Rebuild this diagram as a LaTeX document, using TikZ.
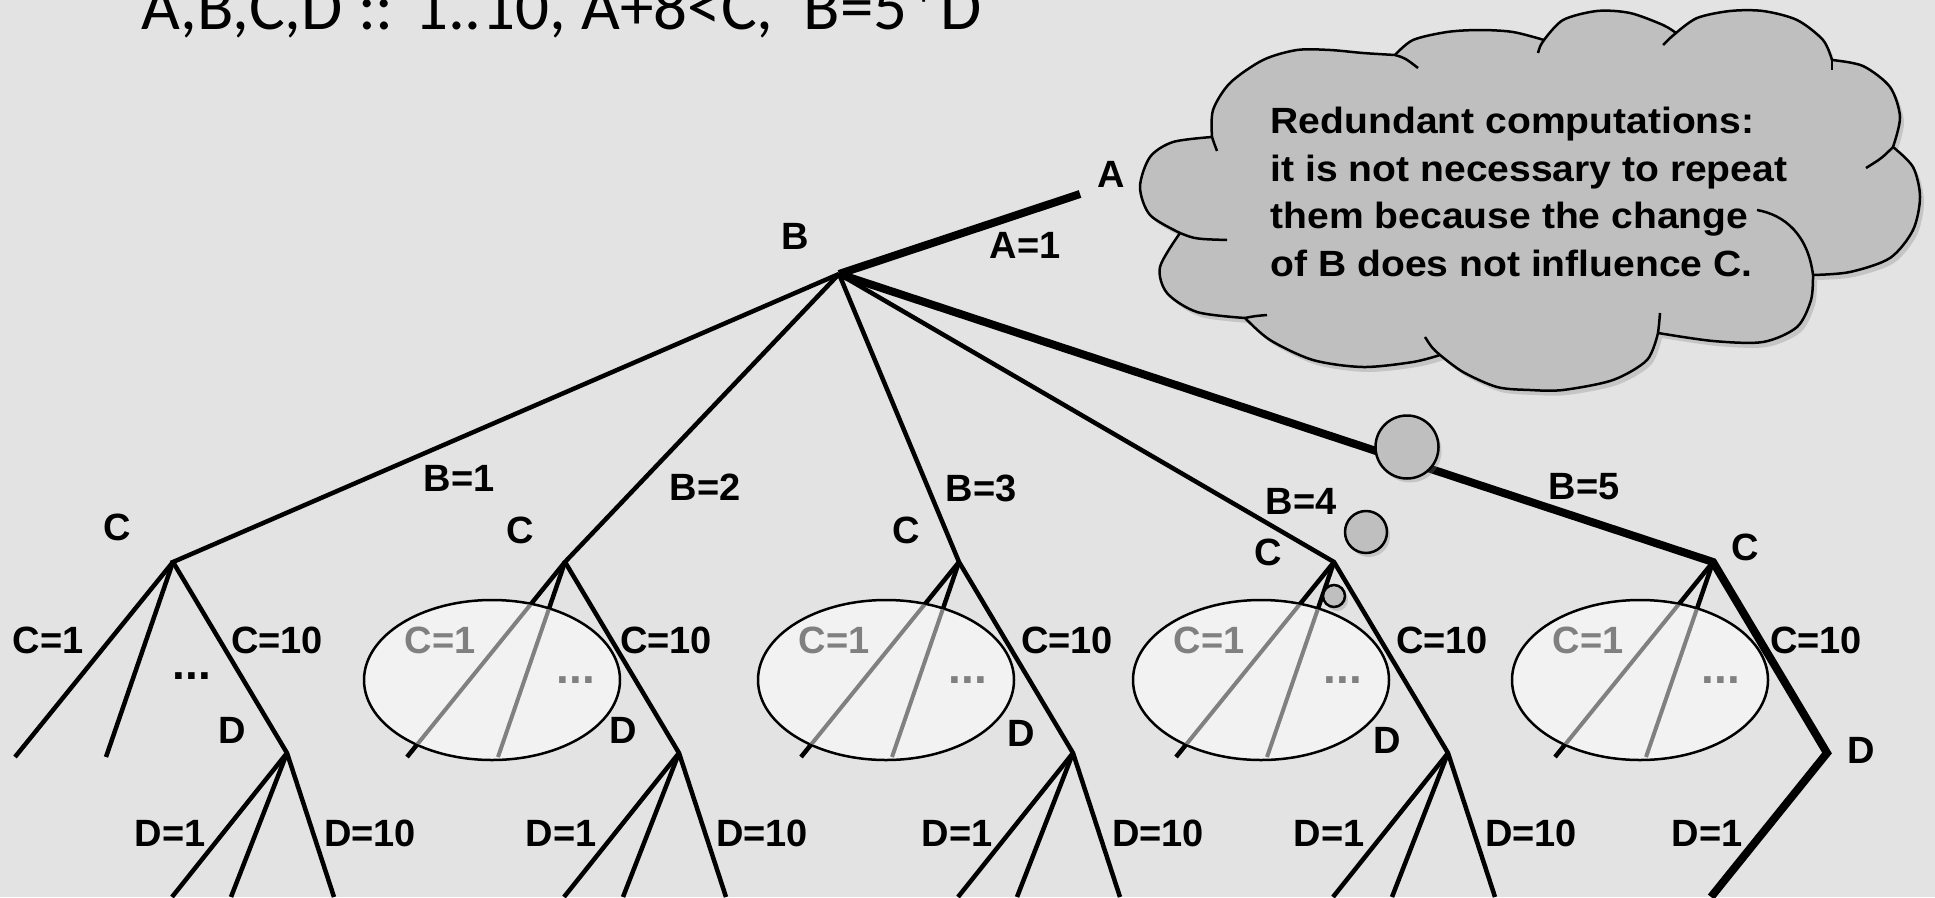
\documentclass[tikz,border=0pt]{standalone}
\usepackage{fontspec}
\setmainfont{Liberation Sans}
\newfontfamily\titlefont{Carlito}
\newfontfamily\notefont[FakeStretch=1.07]{Liberation Sans}
\usetikzlibrary{shapes.geometric}
\usetikzlibrary{shadows}
\definecolor{bgcol}{RGB}{227,227,227}
\definecolor{cloudcol}{RGB}{191,191,191}
\definecolor{ovalcol}{RGB}{242,242,242}
\definecolor{dimcol}{RGB}{128,128,128}
\tikzset{
 lbl/.style={inner sep=0, font=\fontsize{38}{40}\selectfont\bfseries},
 dimlbl/.style={lbl, text=dimcol},
 dots/.style={inner sep=0, font=\fontsize{46}{48}\selectfont\bfseries},
 branch/.style={line width=4.5pt},
 mainbranch/.style={line width=8pt},
 dimbranch/.style={line width=4pt, draw=dimcol},
 oval/.style={ellipse, draw, line width=2.5pt, fill=ovalcol, minimum width=256pt, minimum height=160pt, inner sep=0},
 thought/.style={draw, line width=2.5pt, line join=round, fill=cloudcol,
   drop shadow={opacity=.3, shadow xshift=4pt, shadow yshift=-5pt}},
 fold/.style={line width=2.5pt},
 bubble/.style={circle, draw, line width=2.5pt, fill=cloudcol, inner sep=0,
   drop shadow={opacity=.3, shadow xshift=3pt, shadow yshift=-4pt}},
}

\begin{document}
\begin{tikzpicture}[x=1pt,y=-1pt]
 \fill[bgcol] (0,0) rectangle (1935,897);
 \useasboundingbox (0,0) rectangle (1935,897);

 \node[anchor=base west, inner sep=0, font=\titlefont\fontsize{67}{70}\selectfont] (constraints) at (141,29) {A,B,C,D :: 1..10, A+8<C,\ \ B=5*D};

 % tree points
 \coordinate (A) at (1080,194);
 \coordinate (B) at (839,274);
 \coordinate (C1) at (173,562);
 \coordinate (C2) at (565,562);
 \coordinate (C3) at (959,562);
 \coordinate (C4) at (1334,562);
 \coordinate (C5) at (1713,562);
 \coordinate (D1) at (287,753);
 \coordinate (D2) at (679,753);
 \coordinate (D3) at (1073,753);
 \coordinate (D4) at (1448,753);
 \coordinate (D5) at (1827,753);
 \coordinate (C1a) at (15,757);   \coordinate (C1b) at (106,757);
 \coordinate (C2a) at (407,757);  \coordinate (C2b) at (498,757);
 \coordinate (C3a) at (801,757);  \coordinate (C3b) at (892,757);
 \coordinate (C4a) at (1176,757); \coordinate (C4b) at (1267,757);
 \coordinate (C5a) at (1555,757); \coordinate (C5b) at (1646,757);
 \coordinate (D1a) at (172,897);  \coordinate (D1b) at (231,897);  \coordinate (D1c) at (334,897);
 \coordinate (D2a) at (564,897);  \coordinate (D2b) at (623,897);  \coordinate (D2c) at (726,897);
 \coordinate (D3a) at (958,897);  \coordinate (D3b) at (1017,897); \coordinate (D3c) at (1120,897);
 \coordinate (D4a) at (1333,897); \coordinate (D4b) at (1392,897); \coordinate (D4c) at (1495,897);
 \coordinate (D5a) at (1711,897);

 % B=1
 \draw[branch] (B) -- (C1) -- (D1) -- (D1c);
 \draw[branch] (C1) -- (C1a);
 \draw[branch] (C1) -- (C1b);
 \draw[branch] (D1) -- (D1a);
 \draw[branch] (D1) -- (D1b);

 % B=2
 \draw[branch] (C2) -- (C2a);
 \draw[branch] (C2) -- (C2b);
 \node[oval] (oval2) at (492,680) {};
 \begin{scope}
  \clip (492,680) ellipse [x radius=127pt, y radius=79pt];
  \draw[dimbranch] (C2) -- (C2a);
  \draw[dimbranch] (C2) -- (C2b);
 \end{scope}
 \draw[branch] (B) -- (C2) -- (D2) -- (D2c);
 \draw[branch] (D2) -- (D2a);
 \draw[branch] (D2) -- (D2b);

 % B=3
 \draw[branch] (C3) -- (C3a);
 \draw[branch] (C3) -- (C3b);
 \node[oval] (oval3) at (886,680) {};
 \begin{scope}
  \clip (886,680) ellipse [x radius=127pt, y radius=79pt];
  \draw[dimbranch] (C3) -- (C3a);
  \draw[dimbranch] (C3) -- (C3b);
 \end{scope}
 \draw[branch] (B) -- (C3) -- (D3) -- (D3c);
 \draw[branch] (D3) -- (D3a);
 \draw[branch] (D3) -- (D3b);

 % B=4
 \draw[branch] (C4) -- (C4a);
 \draw[branch] (C4) -- (C4b);
 \node[oval] (oval4) at (1261,680) {};
 \begin{scope}
  \clip (1261,680) ellipse [x radius=127pt, y radius=79pt];
  \draw[dimbranch] (C4) -- (C4a);
  \draw[dimbranch] (C4) -- (C4b);
 \end{scope}
 \draw[branch] (B) -- (C4) -- (D4) -- (D4c);
 \draw[branch] (D4) -- (D4a);
 \draw[branch] (D4) -- (D4b);

 % B=5
 \draw[branch] (C5) -- (C5a);
 \draw[branch] (C5) -- (C5b);
 \node[oval] (oval5) at (1640,680) {};
 \begin{scope}
  \clip (1640,680) ellipse [x radius=127pt, y radius=79pt];
  \draw[dimbranch] (C5) -- (C5a);
  \draw[dimbranch] (C5) -- (C5b);
 \end{scope}
 \draw[mainbranch] (B) -- (C5) -- (D5) -- (D5a);
 \draw[mainbranch] (A) -- (B);

 % labels
 \node[lbl] (Alab) at (1111,174) {A};
 \node[lbl] (Blab) at (795,236) {B};
 \node[lbl] (A1lab) at (1025,245) {A=1};
 \node[lbl] (B1lab) at (459,478) {B=1};
 \node[lbl] (B2lab) at (705,487) {B=2};
 \node[lbl] (B3lab) at (981,488) {B=3};
 \node[lbl] (B4lab) at (1301,501) {B=4};
 \node[lbl] (B5lab) at (1584,487) {B=5};

 \node[lbl] (C1lab) at (117,527) {C};
 \node[lbl] (C2lab) at (520,530) {C};
 \node[lbl] (C3lab) at (906,530) {C};
 \node[lbl] (C4lab) at (1268,552) {C};
 \node[lbl] (C5lab) at (1745,547) {C};

 \node[lbl] (C1one) at (48,640) {C=1};
 \node[dimlbl] (C2one) at (440,640) {C=1};
 \node[dimlbl] (C3one) at (834,640) {C=1};
 \node[dimlbl] (C4one) at (1209,640) {C=1};
 \node[dimlbl] (C5one) at (1588,640) {C=1};

 \node[dots] (C1dots) at (192,676) {...};
 \node[dots, text=dimcol] (C2dots) at (576,680) {...};
 \node[dots, text=dimcol] (C3dots) at (968,680) {...};
 \node[dots, text=dimcol] (C4dots) at (1343,680) {...};
 \node[dots, text=dimcol] (C5dots) at (1721,680) {...};

 \node[lbl] (C1ten) at (277,640) {C=10};
 \node[lbl] (C2ten) at (666,640) {C=10};
 \node[lbl] (C3ten) at (1067,640) {C=10};
 \node[lbl] (C4ten) at (1442,640) {C=10};
 \node[lbl] (C5ten) at (1816,640) {C=10};

 \node[lbl] (D1lab) at (232,730) {D};
 \node[lbl] (D2lab) at (623,730) {D};
 \node[lbl] (D3lab) at (1021,733) {D};
 \node[lbl] (D4lab) at (1387,740) {D};
 \node[lbl] (D5lab) at (1861,750) {D};

 \node[lbl] (D1one) at (170,833) {D=1};
 \node[lbl] (D2one) at (561,833) {D=1};
 \node[lbl] (D3one) at (957,833) {D=1};
 \node[lbl] (D4one) at (1329,833) {D=1};
 \node[lbl] (D5one) at (1707,833) {D=1};

 \node[lbl] (D1ten) at (370,833) {D=10};
 \node[lbl] (D2ten) at (762,833) {D=10};
 \node[lbl] (D3ten) at (1158,833) {D=10};
 \node[lbl] (D4ten) at (1531,833) {D=10};

 % thought cloud
 \draw[thought] (1212,137)
  -- plot[smooth] coordinates {(1212,137) (1213,110) (1230,83) (1263,60) (1297,50) (1330,50) (1363,53) (1395,55)}
  -- plot[smooth] coordinates {(1395,55) (1413,40) (1447,32) (1480,30) (1513,32) (1544,40)}
  -- plot[smooth] coordinates {(1544,40) (1563,20) (1597,11) (1630,13) (1663,25) (1676,33)}
  -- plot[smooth] coordinates {(1676,33) (1697,18) (1730,11) (1763,11) (1797,20) (1823,40) (1832,60)}
  -- plot[smooth] coordinates {(1832,60) (1863,66) (1890,87) (1900,117) (1893,147)}
  -- plot[smooth] coordinates {(1893,147) (1913,167) (1920,197) (1913,230) (1890,258) (1850,272) (1813,275)}
  -- plot[smooth] coordinates {(1813,275) (1811,300) (1797,327) (1763,342) (1713,341) (1658,333)}
  -- plot[smooth] coordinates {(1658,333) (1647,360) (1613,380) (1563,390) (1530,390) (1497,387) (1463,372) (1440,355)}
  -- plot[smooth] coordinates {(1440,355) (1413,362) (1363,367) (1313,360) (1270,340) (1245,318)}
  -- plot[smooth] coordinates {(1245,318) (1197,312) (1167,293) (1160,267) (1180,233)}
  -- plot[smooth] coordinates {(1180,233) (1150,215) (1140,187) (1150,157) (1173,142) (1212,137)}
  -- cycle;
 \draw[fold] (1212,137) .. controls (1214,143) .. (1217,151);
 \draw[fold] (1395,55) .. controls (1405,58) .. (1418,68);
 \draw[fold] (1544,40) .. controls (1540,46) .. (1538,53);
 \draw[fold] (1676,33) .. controls (1670,38) .. (1663,45);
 \draw[fold] (1832,60) -- (1832,70);
 \draw[fold] (1893,147) .. controls (1882,158) .. (1866,168);
 \draw[fold] (1813,275) .. controls (1808,235) and (1785,215) .. (1757,210);
 \draw[fold] (1658,333) .. controls (1659,325) .. (1660,313);
 \draw[fold] (1440,355) .. controls (1432,348) .. (1425,337);
 \draw[fold] (1245,318) .. controls (1255,316) .. (1267,315);
 \draw[fold] (1180,233) .. controls (1195,239) .. (1227,240);
 \node[align=left, inner sep=0, font=\notefont\fontsize{36.5}{47.7}\selectfont\bfseries] (notetext) at (1529,192)
  {Redundant computations:\\it is not necessary to repeat\\them because the change\\of B does not influence C.};
 \node[bubble, minimum size=63pt] (puff1) at (1407,447) {};
 \node[bubble, minimum size=42pt] (puff2) at (1366,532) {};
 \node[bubble, minimum size=22pt] (puff3) at (1334,596) {};

\end{tikzpicture}
\end{document}
